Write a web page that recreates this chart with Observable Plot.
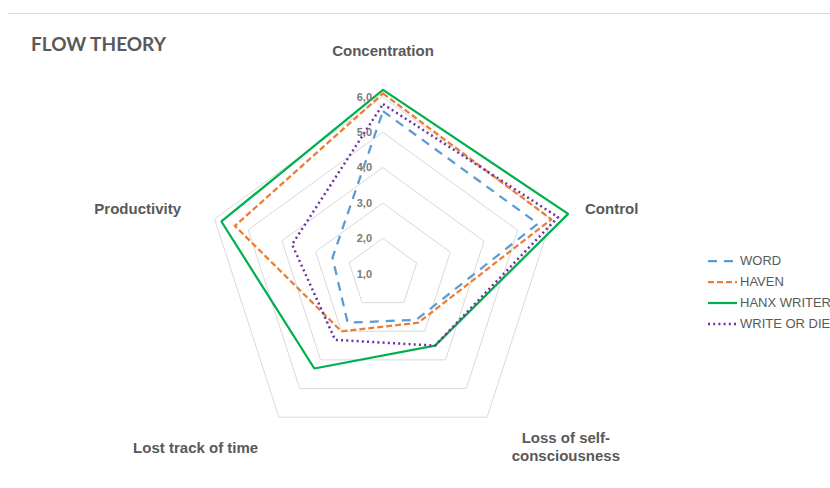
<!DOCTYPE html>
<html>
<head>
<meta charset="utf-8">
<script src="https://cdn.jsdelivr.net/npm/d3@7"></script>
<script src="https://cdn.jsdelivr.net/npm/@observablehq/plot@0.6"></script>
<style>
  body { margin: 0; background: #fff; }
  #wrap { position: relative; width: 830px; height: 488px; overflow: hidden; font-family: "Liberation Sans", Arial, sans-serif; }
  #rule { position: absolute; left: 8px; right: 0; top: 13px; border-top: 1px solid #d9d9d9; }
  #title { position: absolute; left: 31px; top: 32px; font: bold 19px Lato, "Liberation Sans", sans-serif; color: #595959; white-space: nowrap; }
  #chart { position: absolute; left: 0; top: 0; }
  .lg { position: absolute; left: 708px; height: 16px; line-height: 16px; white-space: nowrap; font-size: 13px; color: #595959; display: flex; align-items: center; }
  .lg svg { margin-right: 3px; flex: none; }
</style>
</head>
<body>
<div id="wrap">
  <div id="rule"></div>
  <div id="chart"></div>
  <div id="title">FLOW THEORY</div>
  <div id="legend"></div>
</div>
<script>
// Survey scores per flow dimension (radial axis runs from 1 at the centre to 6)
const categories = ["Concentration", "Control", "Loss of self-\nconsciousness", "Lost track of time", "Productivity"];
const seriesNames = ["WORD", "HAVEN", "HANX WRITER", "WRITE OR DIE"];
const word       = [5.6, 5.6, 2.6, 2.7, 2.5];
const haven      = [6.1, 6.0, 2.7, 3.0, 5.4];
const hanxWriter = [6.2, 6.5, 3.5, 4.3, 5.8];
const writeOrDie = [5.8, 6.2, 3.5, 3.3, 3.7];
const tickValues = [1, 2, 3, 4, 5, 6];
const tickLabels = ["1,0", "2,0", "3,0", "4,0", "5,0", "6,0"];

const seriesValues = [word, haven, hanxWriter, writeOrDie];
const styles = [
  {stroke: "#5B9BD5", strokeWidth: 2.25, strokeDasharray: "9,7", strokeLinejoin: "round"},
  {stroke: "#ED7D31", strokeWidth: 2.25, strokeDasharray: "6,3", strokeLinejoin: "round"},
  {stroke: "#00B050", strokeWidth: 2.25, strokeDasharray: null, strokeLinejoin: "miter"},
  {stroke: "#7030A0", strokeWidth: 2.5, strokeDasharray: "2,3.2", strokeLinejoin: "round"}
];

// layout
const W = 830, H = 488, cx = 382.5, cy = 273.5, unit = 35.4;
const rMin = tickValues[0];
const n = categories.length;
const angle = i => (i * 2 * Math.PI) / n;
const polar = (v, i) => ({px: (v - rMin) * Math.sin(angle(i)), py: (v - rMin) * Math.cos(angle(i))});

// grid rings
const rings = [];
for (const t of tickValues.slice(1)) {
  categories.forEach((c, i) => rings.push({ring: t, ...polar(t, i)}));
}

// series rows
const rows = seriesValues.map((vals, s) =>
  vals.map((v, i) => ({series: seriesNames[s], category: categories[i], value: v, ...polar(v, i)}))
);

// tick labels along the top axis
const tickRows = tickValues.map((t, k) => ({label: tickLabels[k], ...polar(t, 0)}));

// category labels just outside the outer ring
const labelR = tickValues[tickValues.length - 1] + 1;
const anchors = ["middle", "start", "middle", "end", "end"];
const shiftX = [0, 0, 58, 0, 0];
const shiftY = [-11, 0, 0, 1, 0];
const catRows = categories.map((c, i) => ({
  label: c, anchor: anchors[i], sx: shiftX[i], sy: shiftY[i], ...polar(labelR, i)
}));

const marks = [
  Plot.line(rings, {x: "px", y: "py", z: "ring", curve: "linear-closed", stroke: "#d9d9d9", strokeWidth: 1})
];
rows.forEach((r, s) => {
  const st = styles[s];
  marks.push(Plot.line(r, {
    x: "px", y: "py", curve: "linear-closed",
    stroke: st.stroke, strokeWidth: st.strokeWidth,
    strokeDasharray: st.strokeDasharray, strokeLinejoin: st.strokeLinejoin, strokeLinecap: "butt"
  }));
});
marks.push(Plot.text(tickRows, {
  x: "px", y: "py", text: "label", textAnchor: "end", dx: -11,
  fill: "#7a7a7a", fontSize: 11, fontWeight: "bold", fontFamily: "Liberation Sans, Arial, sans-serif"
}));
for (const d of catRows) {
  marks.push(Plot.text([d], {
    x: "px", y: "py", text: "label", textAnchor: d.anchor, dx: d.sx, dy: d.sy, lineHeight: 1.2,
    fill: "#595959", fontSize: 15, fontWeight: "bold", fontFamily: "Liberation Sans, Arial, sans-serif"
  }));
}

const chart = Plot.plot({
  width: W, height: H, margin: 0,
  x: {domain: [-cx / unit, (W - cx) / unit], range: [0, W], axis: null},
  y: {domain: [-(H - cy) / unit, cy / unit], range: [H, 0], axis: null},
  style: {background: "transparent"},
  marks
});
document.getElementById("chart").appendChild(chart);

// legend
const legend = document.getElementById("legend");
const legendTop = [252.5, 273.5, 294.5, 316];
seriesNames.forEach((name, s) => {
  const st = styles[s];
  const div = document.createElement("div");
  div.className = "lg";
  div.style.top = legendTop[s] + "px";
  div.innerHTML =
    `<svg width="29" height="6"><line x1="0" x2="29" y1="3" y2="3" stroke="${st.stroke}" stroke-width="${st.strokeWidth}"` +
    (st.strokeDasharray ? ` stroke-dasharray="${st.strokeDasharray}"` : "") + `/></svg><span>${name}</span>`;
  legend.appendChild(div);
});
</script>
</body>
</html>
